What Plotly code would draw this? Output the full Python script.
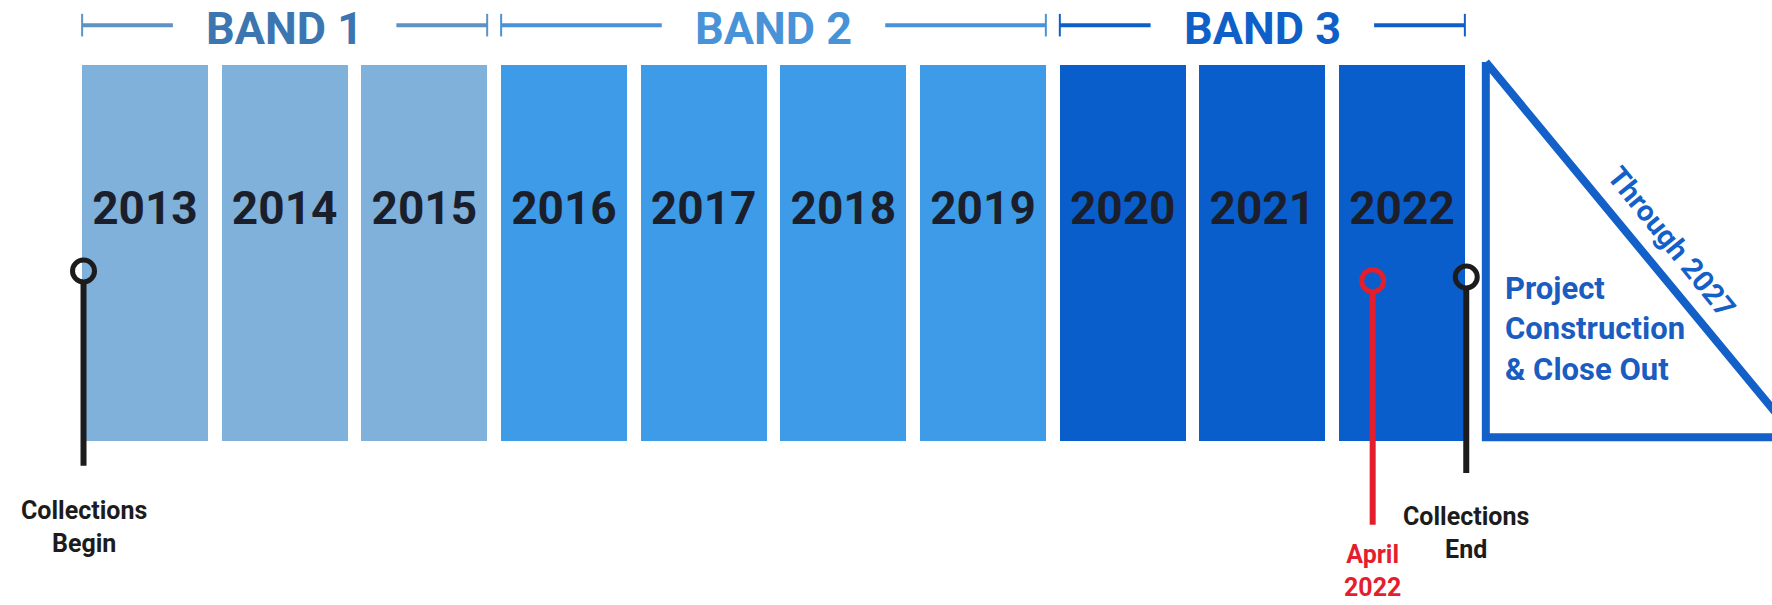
import plotly.graph_objects as go

# ---------------- data ----------------
years = [2013, 2014, 2015, 2016, 2017, 2018, 2019, 2020, 2021, 2022]
year_band = [1, 1, 1, 2, 2, 2, 2, 3, 3, 3]
bar_value = [1, 1, 1, 1, 1, 1, 1, 1, 1, 1]

band_names = ["BAND 1", "BAND 2", "BAND 3"]
band_ids = [1, 2, 3]

milestone_labels = ["Collections<br>Begin", "April<br>2022", "Collections<br>End"]
milestone_x = [2012.56, 2021.79, 2022.46]

phase_label = "Project<br>Construction<br>& Close Out"
phase_through = "Through 2027"

# ---------------- styles / layout constants ----------------
FONT = "Roboto"
bar_colors = {1: "#7fb1da", 2: "#3e9be8", 3: "#0a5ecb"}
band_text_colors = {1: "#3b76b0", 2: "#4893d8", 3: "#0f5fc8"}
band_line_colors = {1: "#5d92c4", 2: "#4893d8", 3: "#0f5fc8"}
milestone_colors = ["#1c1c1c", "#e31e2d", "#1c1c1c"]
milestone_circle_y = [0.452, 0.426, 0.436]
milestone_stem_end = [-0.066, -0.223, -0.085]
milestone_label_y = [-0.228, -0.345, -0.245]
phase_color = "#1260c8"

BAR_W = 0.9
X_RANGE = [2011.962, 2024.649]
Y_RANGE = [-0.4362, 1.1729]
BAND_TITLE_Y = 1.097
BRACKET_Y = 1.106
BRACKET_TICK = 0.03
TEXT_GAP = 0.8
YEAR_LABEL_Y = 0.609

TRI_L, TRI_R = 2022.60, 2024.82
TRI_B, TRI_T = 0.010, 1.008

fig = go.Figure()

# year bars
fig.add_trace(go.Bar(
    x=years, y=bar_value, width=BAR_W,
    marker=dict(color=[bar_colors[b] for b in year_band], line=dict(width=0)),
    hoverinfo="skip",
))

# year labels
fig.add_trace(go.Scatter(
    x=years, y=[YEAR_LABEL_Y] * len(years), mode="text",
    text=[str(y) for y in years],
    textfont=dict(family=FONT, size=46, color="#1b1f2b", weight=700),
    hoverinfo="skip", cliponaxis=False,
))

# band brackets and titles
for bid, name in zip(band_ids, band_names):
    ys = [y for y, b in zip(years, year_band) if b == bid]
    x0 = min(ys) - BAR_W / 2
    x1 = max(ys) + BAR_W / 2
    xc = (x0 + x1) / 2
    col = band_line_colors[bid]
    fig.add_trace(go.Scatter(
        x=[x0, xc - TEXT_GAP, None, xc + TEXT_GAP, x1],
        y=[BRACKET_Y, BRACKET_Y, None, BRACKET_Y, BRACKET_Y],
        mode="lines", line=dict(color=col, width=4), hoverinfo="skip",
    ))
    fig.add_trace(go.Scatter(
        x=[x0, x0, None, x1, x1],
        y=[BRACKET_Y - BRACKET_TICK, BRACKET_Y + BRACKET_TICK, None,
           BRACKET_Y - BRACKET_TICK, BRACKET_Y + BRACKET_TICK],
        mode="lines", line=dict(color=col, width=2), hoverinfo="skip",
    ))
    fig.add_annotation(
        x=xc, y=BAND_TITLE_Y, text=name, showarrow=False,
        font=dict(family=FONT, size=45, color=band_text_colors[bid], weight=700),
        xanchor="center", yanchor="middle",
    )

# construction phase triangle
fig.add_trace(go.Scatter(
    x=[TRI_L, TRI_L, TRI_R, TRI_L],
    y=[TRI_T, TRI_B, TRI_B, TRI_T],
    mode="lines", line=dict(color=phase_color, width=8),
    hoverinfo="skip",
))
fig.add_annotation(
    x=2022.725, y=0.297, text=phase_label, showarrow=False, align="left",
    xanchor="left", yanchor="middle",
    font=dict(family=FONT, size=31, color="#1a5cc0", weight=700),
)
fig.add_annotation(
    x=2023.93, y=0.53, text=phase_through, showarrow=False, textangle=51,
    xanchor="center", yanchor="middle",
    font=dict(family=FONT, size=29, color=phase_color, weight=700),
)

# milestones
for lab, mx, col, cy, sy, ly in zip(milestone_labels, milestone_x, milestone_colors,
                                     milestone_circle_y, milestone_stem_end, milestone_label_y):
    fig.add_trace(go.Scatter(
        x=[mx, mx], y=[cy - 0.03, sy], mode="lines",
        line=dict(color=col, width=6), hoverinfo="skip",
    ))
    fig.add_trace(go.Scatter(
        x=[mx], y=[cy], mode="markers",
        marker=dict(symbol="circle-open", size=22, color=col, line=dict(width=5, color=col)),
        hoverinfo="skip", cliponaxis=False,
    ))
    fig.add_annotation(
        x=mx, y=ly, text=lab, showarrow=False, align="center",
        xanchor="center", yanchor="middle",
        font=dict(family=FONT, size=25, color=col, weight=700),
    )

fig.update_layout(
    width=1772, height=605,
    margin=dict(l=0, r=0, t=0, b=0),
    paper_bgcolor="white", plot_bgcolor="white",
    showlegend=False, bargap=0,
    xaxis=dict(range=X_RANGE, visible=False, fixedrange=True),
    yaxis=dict(range=Y_RANGE, visible=False, fixedrange=True),
)

fig.write_html("out.html", post_script="document.body.style.margin='0';",
               config={"displayModeBar": False})
